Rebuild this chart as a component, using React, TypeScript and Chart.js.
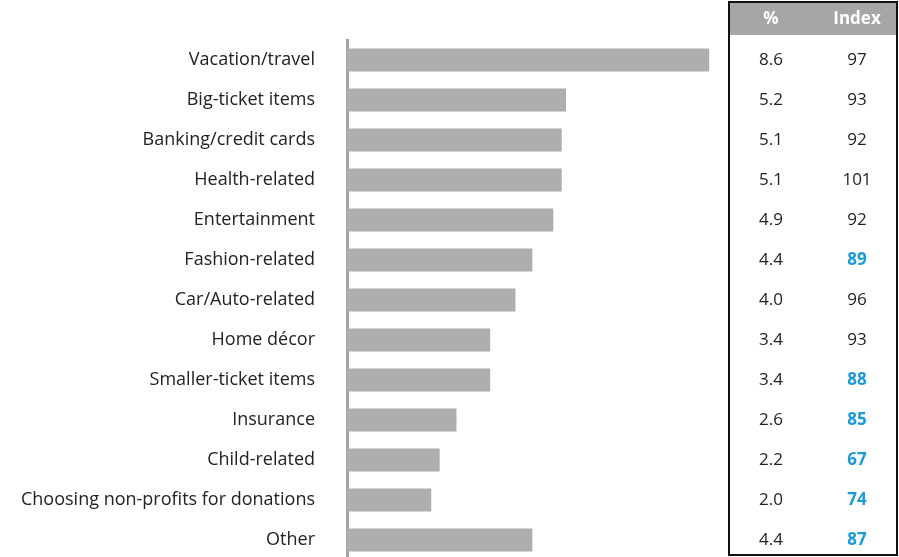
import React, { useEffect, useRef } from "react";
import { Chart, registerables } from "chart.js";

Chart.register(...registerables);

const categories = [
  "Vacation/travel",
  "Big-ticket items",
  "Banking/credit cards",
  "Health-related",
  "Entertainment",
  "Fashion-related",
  "Car/Auto-related",
  "Home décor",
  "Smaller-ticket items",
  "Insurance",
  "Child-related",
  "Choosing non-profits for donations",
  "Other",
];
const percentValues = [8.6, 5.2, 5.1, 5.1, 4.9, 4.4, 4.0, 3.4, 3.4, 2.6, 2.2, 2.0, 4.4];
const indexValues = [97, 93, 92, 101, 92, 89, 96, 93, 88, 85, 67, 74, 87];
const indexHighlighted = [false, false, false, false, false, true, false, false, true, true, true, true, true];
const tableHeaders = ["%", "Index"];

const FONT = "'Open Sans', sans-serif";

const tablePlugin = {
  id: "sideTable",
  afterDraw(chart: any) {
    const ctx = chart.ctx;
    const y = chart.scales.y;
    const left = 729;
    const right = 897;
    const top = 2;
    const bottom = 555;
    const col1 = 771;
    const col2 = 857;
    ctx.save();
    ctx.fillStyle = "#a6a6a6";
    ctx.fillRect(left, top, right - left, 33);
    ctx.strokeStyle = "#111";
    ctx.lineWidth = 2;
    ctx.strokeRect(left, top, right - left, bottom - top);
    ctx.textAlign = "center";
    ctx.textBaseline = "middle";
    ctx.fillStyle = "#ffffff";
    ctx.font = `bold 17px ${FONT}`;
    ctx.fillText(tableHeaders[0], col1, 19);
    ctx.fillText(tableHeaders[1], col2, 19);
    percentValues.forEach((v, i) => {
      const py = y.getPixelForValue(i);
      ctx.font = `17px ${FONT}`;
      ctx.fillStyle = "#222";
      ctx.fillText(v.toFixed(1), col1, py);
      if (indexHighlighted[i]) {
        ctx.font = `bold 17px ${FONT}`;
        ctx.fillStyle = "#1a9ad6";
      } else {
        ctx.font = `17px ${FONT}`;
        ctx.fillStyle = "#222";
      }
      ctx.fillText(String(indexValues[i]), col2, py);
    });
    ctx.restore();
  },
};

export default function App() {
  const ref = useRef<HTMLCanvasElement>(null);
  useEffect(() => {
    if (!ref.current) return;
    const chart = new Chart(ref.current, {
      type: "bar",
      data: {
        labels: categories,
        datasets: [
          {
            data: percentValues,
            backgroundColor: "#adaeb0",
            borderWidth: 0,
            categoryPercentage: 1,
            barPercentage: 0.58,
          },
        ],
      },
      options: {
        indexAxis: "y",
        animation: false,
        responsive: true,
        maintainAspectRatio: false,
        layout: { padding: { left: 0, right: 173, top: 40, bottom: 5 } },
        plugins: { legend: { display: false }, tooltip: { enabled: false } },
        scales: {
          x: { display: false, min: 0, max: 9 },
          y: {
            afterFit(scale: any) {
              scale.width = 347;
              scale.paddingTop = 0;
              scale.paddingBottom = 0;
            },
            grid: { display: false, drawTicks: false },
            border: { display: true, color: "#a3a3a3", width: 3 },
            ticks: {
              autoSkip: false,
              padding: 32,
              color: "#222",
              font: { family: FONT, size: 18 },
            },
          },
        },
      },
      plugins: [tablePlugin],
    });
    return () => chart.destroy();
  }, []);
  return (
    <div style={{ position: "absolute", left: 0, top: 0, width: 899, height: 557, overflow: "hidden", background: "#fff" }}>
      <div style={{ position: "relative", width: 899, height: 565 }}>
        <canvas ref={ref} />
      </div>
    </div>
  );
}
